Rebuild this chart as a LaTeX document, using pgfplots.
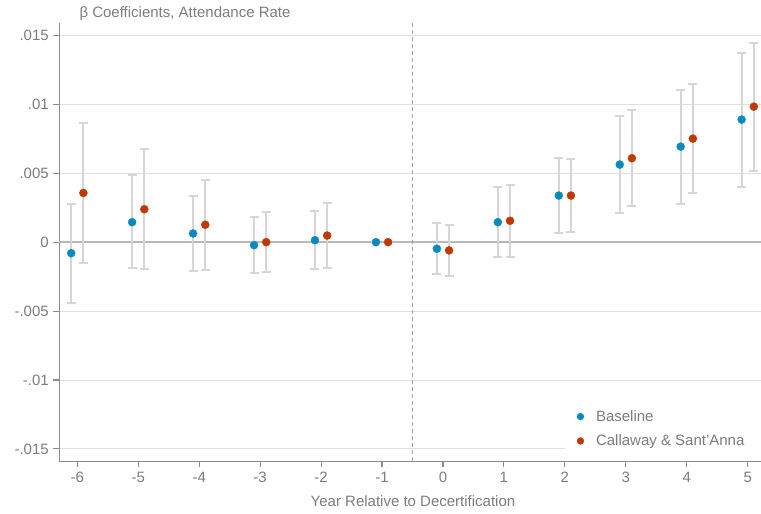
\documentclass[border=0pt]{standalone}
\usepackage{fontspec}
\setmainfont{Liberation Sans}
\usepackage{pgfplots}
\usepackage{pgfplotstable}
\pgfplotsset{compat=1.18}

\definecolor{basecol}{RGB}{8,138,192}
\definecolor{csacol}{RGB}{192,56,2}
\definecolor{txtgray}{RGB}{125,125,125}
\definecolor{axgray}{RGB}{140,140,140}
\definecolor{gridgray}{RGB}{224,224,224}
\definecolor{zerogray}{RGB}{185,185,185}
\definecolor{cigray}{RGB}{214,214,214}

% event-study estimates: x (offset), point estimate, 95% CI bounds
\pgfplotstableread{
x     y         lo        hi
-6.1  -0.00080  -0.00440  0.00278
-5.1   0.00145  -0.00190  0.00486
-4.1   0.00063  -0.00208  0.00338
-3.1  -0.00022  -0.00227  0.00184
-2.1   0.00014  -0.00196  0.00225
-1.1   0.00000   0.00000  0.00000
-0.1  -0.00048  -0.00234  0.00138
 0.9   0.00145  -0.00111  0.00401
 1.9   0.00338   0.00063  0.00614
 2.9   0.00563   0.00213  0.00915
 3.9   0.00693   0.00280  0.01104
 4.9   0.00889   0.00401  0.01372
}\baseline

\pgfplotstableread{
x     y         lo        hi
-5.9   0.00357  -0.00152  0.00865
-4.9   0.00239  -0.00193  0.00679
-3.9   0.00126  -0.00203  0.00452
-2.9   0.00000  -0.00215  0.00217
-1.9   0.00048  -0.00191  0.00285
-0.9   0.00000   0.00000  0.00000
 0.1  -0.00060  -0.00249  0.00128
 1.1   0.00155  -0.00106  0.00415
 2.1   0.00338   0.00075  0.00604
 3.1   0.00609   0.00261  0.00961
 4.1   0.00751   0.00357  0.01147
 5.1   0.00983   0.00519  0.01447
}\csa

\begin{document}
\begin{tikzpicture}[font=\fontsize{15}{18}\selectfont]
\useasboundingbox (-59.3pt,-52.7pt) rectangle (701.7pt,461.3pt);
\begin{axis}[
  scale only axis,
  width=701.7pt, height=438.3pt,
  xmin=-6.295, xmax=5.218,
  ymin=-0.0159, ymax=0.0159,
  scaled y ticks=false,
  axis x line*=bottom, axis y line*=left,
  axis line style={axgray, line width=1.3pt, -},
  xtick={-6,-5,-4,-3,-2,-1,0,1,2,3,4,5},
  xticklabels={-6,-5,-4,-3,-2,-1,0,1,2,3,4,5},
  ytick={-0.015,-0.01,-0.005,0,0.005,0.01,0.015},
  yticklabels={-.015,-.01,-.005,0,.005,.01,.015},
  tick align=outside,
  major tick length=6pt,
  tick style={axgray, line width=1.1pt},
  ticklabel style={txtgray, font=\fontsize{15}{18}\selectfont},
  xticklabel style={yshift=-1pt},
  yticklabel style={xshift=-1pt},
  ymajorgrids,
  grid style={gridgray, line width=0.9pt},
  legend cell align=left,
  legend style={at={(0.723,0)}, anchor=south west, draw=none, fill=white,
    font=\fontsize{15}{18}\selectfont, text=txtgray,
    inner xsep=10pt, inner ysep=12pt, row sep=8pt},
  legend image code/.code={\fill (3.4pt,0pt) circle (3.4pt); \path[draw=none, fill=none] (0pt,-0.1pt) rectangle (17pt,0.1pt);},
  clip=false,
]
% zero reference and treatment onset
\draw[zerogray, line width=1.8pt] (axis cs:-6.295,0) -- (axis cs:5.218,0);
\draw[axgray!80, line width=1.1pt, dash pattern=on 4pt off 3pt] (axis cs:-0.5,-0.0159) -- (axis cs:-0.5,0.0159);
\fill[white] (axis cs:2.0,-0.0159) rectangle (axis cs:5.218,-0.0118);

\addplot[only marks, mark=*, mark size=4pt, basecol, mark options={draw=basecol, fill=basecol},
  error bars/.cd, y dir=both, y explicit,
  error bar style={cigray, line width=2pt},
  error mark options={rotate=90, cigray, mark size=4.5pt, line width=2pt}]
  table[x=x, y=y, y error plus expr=\thisrow{hi}-\thisrow{y}, y error minus expr=\thisrow{y}-\thisrow{lo}] {\baseline};
\addlegendentry{Baseline}

\addplot[only marks, mark=*, mark size=4pt, csacol, mark options={draw=csacol, fill=csacol},
  error bars/.cd, y dir=both, y explicit,
  error bar style={cigray, line width=2pt},
  error mark options={rotate=90, cigray, mark size=4.5pt, line width=2pt}]
  table[x=x, y=y, y error plus expr=\thisrow{hi}-\thisrow{y}, y error minus expr=\thisrow{y}-\thisrow{lo}] {\csa};
\addlegendentry{Callaway \& Sant'Anna}
\end{axis}
\node[anchor=west, text=txtgray] at (16.7pt,447.3pt) {β Coefficients, Attendance Rate};
\node[text=txtgray] at (353.7pt,-39.7pt) {Year Relative to Decertification};
\end{tikzpicture}
\end{document}
